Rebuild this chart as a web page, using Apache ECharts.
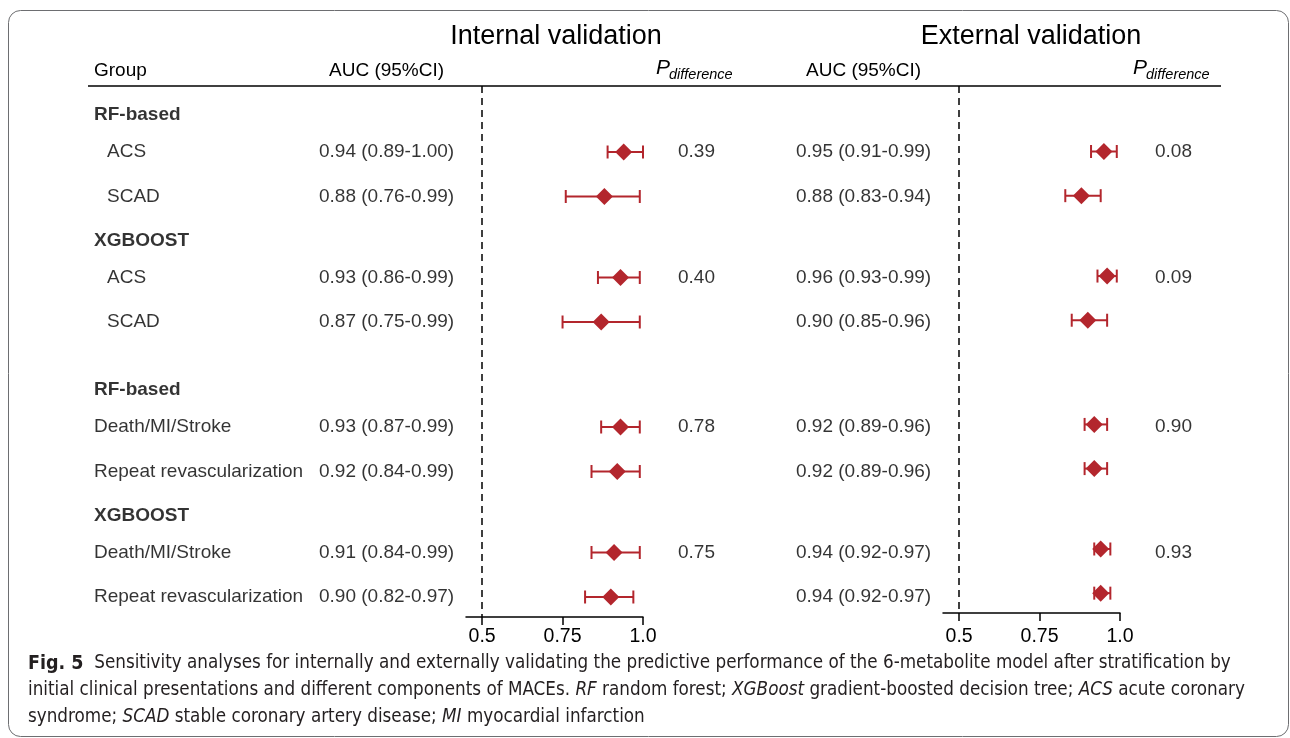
<!DOCTYPE html>
<html>
<head>
<meta charset="utf-8">
<script src="https://cdn.jsdelivr.net/npm/echarts@6/dist/echarts.min.js"></script>
<style>
  html, body { margin: 0; padding: 0; background: #fff; }
  #chart { width: 1290px; height: 738px; }
</style>
</head>
<body>
<div id="chart"></div>
<script>
// rows of the forest plot (top to bottom)
const rowLabels = ['RF-based', 'ACS', 'SCAD', 'XGBOOST', 'ACS', 'SCAD',
  'RF-based', 'Death/MI/Stroke', 'Repeat revascularization', 'XGBOOST', 'Death/MI/Stroke', 'Repeat revascularization'];
const headerRows = [0, 3, 6, 9];
const blockOf = [0, 0, 0, 0, 0, 0, 1, 1, 1, 1, 1, 1];

// internal validation
const intAUC = [null, 0.94, 0.88, null, 0.93, 0.87, null, 0.93, 0.92, null, 0.91, 0.90];
const intLow = [null, 0.89, 0.76, null, 0.86, 0.75, null, 0.87, 0.84, null, 0.84, 0.82];
const intHigh = [null, 1.00, 0.99, null, 0.99, 0.99, null, 0.99, 0.99, null, 0.99, 0.97];
const intP = ['', '0.39', '', '', '0.40', '', '', '0.78', '', '', '0.75', ''];

// external validation
const extAUC = [null, 0.95, 0.88, null, 0.96, 0.90, null, 0.92, 0.92, null, 0.94, 0.94];
const extLow = [null, 0.91, 0.83, null, 0.93, 0.85, null, 0.89, 0.89, null, 0.92, 0.92];
const extHigh = [null, 0.99, 0.94, null, 0.99, 0.96, null, 0.96, 0.96, null, 0.97, 0.97];
const extP = ['', '0.08', '', '', '0.09', '', '', '0.90', '', '', '0.93', ''];

const xTicks = [0.5, 0.75, 1.0];

const RED = '#b3262d';
const FONT = '"Liberation Sans", Arial, Helvetica, sans-serif';
const CAP_FONT = '"Liberation Sans Narrow", "DejaVu Sans Condensed", sans-serif';
const TOP = 86;

// vertical position of each row (grid units == px inside the grid)
const rowY = [];
rowLabels.forEach(function (lab, i) {
  const head = headerRows.indexOf(i) >= 0;
  if (i === 0) { rowY.push(29); return; }
  let step;
  if (head) step = blockOf[i] !== blockOf[i - 1] ? 68 : 44;
  else step = headerRows.indexOf(i - 1) >= 0 ? 37 : 44.5;
  rowY.push(rowY[i - 1] + step);
});

function fmt(v) { return v.toFixed(2); }

// text columns of the table, drawn on a hidden full-width grid
const textData = [];
rowLabels.forEach(function (lab, i) {
  const head = headerRows.indexOf(i) >= 0;
  const x = (!head && blockOf[i] === 0) ? 107 : 94;
  textData.push({ value: [x, rowY[i], lab], label: { fontWeight: head ? 'bold' : 'normal' } });
  if (intAUC[i] != null) {
    textData.push({ value: [319, rowY[i], fmt(intAUC[i]) + ' (' + fmt(intLow[i]) + '-' + fmt(intHigh[i]) + ')'] });
    textData.push({ value: [796, rowY[i], fmt(extAUC[i]) + ' (' + fmt(extLow[i]) + '-' + fmt(extHigh[i]) + ')'] });
  }
  if (intP[i]) textData.push({ value: [678, rowY[i], intP[i]] });
  if (extP[i]) textData.push({ value: [1155, rowY[i], extP[i]] });
});

function points(auc) {
  return auc.map(function (v, i) { return v == null ? null : [v, rowY[i]]; }).filter(Boolean);
}
function bars(low, high) {
  return low.map(function (v, i) { return v == null ? null : [v, high[i], rowY[i]]; }).filter(Boolean);
}

function renderBar(params, api) {
  const a = api.coord([api.value(0), api.value(2)]);
  const b = api.coord([api.value(1), api.value(2)]);
  const h = 6.5;
  const st = { stroke: RED, lineWidth: 2 };
  return {
    type: 'group',
    children: [
      { type: 'line', shape: { x1: a[0], y1: a[1], x2: b[0], y2: b[1] }, style: st },
      { type: 'line', shape: { x1: a[0], y1: a[1] - h, x2: a[0], y2: a[1] + h }, style: st },
      { type: 'line', shape: { x1: b[0], y1: b[1] - h, x2: b[0], y2: b[1] + h }, style: st }
    ]
  };
}

const chart = echarts.init(document.getElementById('chart'));

function xAxisFor(gi, margin) {
  return {
    type: 'value', gridIndex: gi, min: 0.45, max: 1.0,
    splitLine: { show: false },
    axisLine: { show: true, onZero: false, lineStyle: { color: '#000', width: 1.5 } },
    axisTick: { show: true, customValues: xTicks, length: 8, lineStyle: { color: '#000', width: 1.5 } },
    axisLabel: {
      customValues: xTicks, color: '#000', fontSize: 19.5, fontFamily: FONT, margin: margin,
      formatter: function (v) { return v === 1 ? '1.0' : String(v); }
    }
  };
}
function yAxisFor(gi) {
  return { type: 'value', gridIndex: gi, min: 0, max: 531, inverse: true, show: false };
}

const refLine = {
  silent: true, symbol: ['none', 'none'],
  label: { show: false },
  lineStyle: { color: '#000', type: [7, 5], width: 1.5 },
  data: [{ xAxis: 0.5 }]
};

const option = {
  backgroundColor: '#fff',
  animation: false,
  grid: [
    { left: 466, width: 177, top: TOP, height: 531 },
    { left: 943, width: 177, top: TOP, height: 527 },
    { left: 0, width: 1290, top: TOP, height: 531 }
  ],
  xAxis: [xAxisFor(0, 10), xAxisFor(1, 14), { type: 'value', gridIndex: 2, min: 0, max: 1290, show: false }],
  yAxis: [yAxisFor(0), yAxisFor(1), yAxisFor(2)],
  series: [
    { type: 'custom', xAxisIndex: 0, yAxisIndex: 0, renderItem: renderBar, data: bars(intLow, intHigh), z: 3 },
    { type: 'scatter', xAxisIndex: 0, yAxisIndex: 0, symbol: 'diamond', symbolSize: 17,
      itemStyle: { color: RED, opacity: 1 }, data: points(intAUC), z: 4, markLine: refLine },
    { type: 'custom', xAxisIndex: 1, yAxisIndex: 1, renderItem: renderBar, data: bars(extLow, extHigh), z: 3 },
    { type: 'scatter', xAxisIndex: 1, yAxisIndex: 1, symbol: 'diamond', symbolSize: 17,
      itemStyle: { color: RED, opacity: 1 }, data: points(extAUC), z: 4, markLine: refLine },
    { type: 'scatter', xAxisIndex: 2, yAxisIndex: 2, symbolSize: 0, silent: true,
      label: {
        show: true, position: 'right', distance: 0, color: '#000', fontSize: 19, fontFamily: FONT,
        formatter: function (p) { return p.value[2]; }
      },
      data: textData }
  ],
  graphic: [
    { type: 'rect', shape: { x: 8.5, y: 10.5, width: 1280, height: 726, r: 12 },
      style: { fill: 'none', stroke: '#6d6e71', lineWidth: 1 }, silent: true },
    { type: 'line', shape: { x1: 88, y1: TOP, x2: 1221, y2: TOP }, style: { stroke: '#000', lineWidth: 1.5 } },
    { type: 'text', x: 556, y: 37, style: { text: 'Internal validation', font: '27px ' + FONT, fill: '#000', align: 'center', verticalAlign: 'middle' } },
    { type: 'text', x: 1031, y: 37, style: { text: 'External validation', font: '27px ' + FONT, fill: '#000', align: 'center', verticalAlign: 'middle' } },
    { type: 'text', x: 94, y: 71, style: { text: 'Group', font: '19px ' + FONT, fill: '#000', verticalAlign: 'middle' } },
    { type: 'text', x: 329, y: 71, style: { text: 'AUC (95%CI)', font: '19px ' + FONT, fill: '#000', verticalAlign: 'middle' } },
    { type: 'text', x: 806, y: 71, style: { text: 'AUC (95%CI)', font: '19px ' + FONT, fill: '#000', verticalAlign: 'middle' } },
    { type: 'text', x: 656, y: 68, style: { text: 'P', font: 'italic 21px ' + FONT, fill: '#000', verticalAlign: 'middle' } },
    { type: 'text', x: 669, y: 75, style: { text: 'difference', font: 'italic 14.5px ' + FONT, fill: '#000', verticalAlign: 'middle' } },
    { type: 'text', x: 1133, y: 68, style: { text: 'P', font: 'italic 21px ' + FONT, fill: '#000', verticalAlign: 'middle' } },
    { type: 'text', x: 1146, y: 75, style: { text: 'difference', font: 'italic 14.5px ' + FONT, fill: '#000', verticalAlign: 'middle' } },
    { type: 'text', x: 28, y: 650,
      style: {
        text: '{b|Fig. 5}  Sensitivity analyses for internally and externally validating the predictive performance of the 6-metabolite model after stratification by\n' +
          'initial clinical presentations and different components of MACEs. {i|RF} random forest; {i|XGBoost} gradient-boosted decision tree; {i|ACS} acute coronary\n' +
          'syndrome; {i|SCAD} stable coronary artery disease; {i|MI} myocardial infarction',
        fontFamily: CAP_FONT, fontSize: 18.7, lineHeight: 27, fill: '#231f20',
        rich: {
          b: { fontFamily: CAP_FONT, fontSize: 19.5, fontWeight: 'bold', lineHeight: 27, fill: '#231f20' },
          i: { fontFamily: CAP_FONT, fontSize: 18.7, fontStyle: 'italic', lineHeight: 27, fill: '#231f20' }
        }
      } }
  ]
};

chart.setOption(option);
</script>
</body>
</html>
